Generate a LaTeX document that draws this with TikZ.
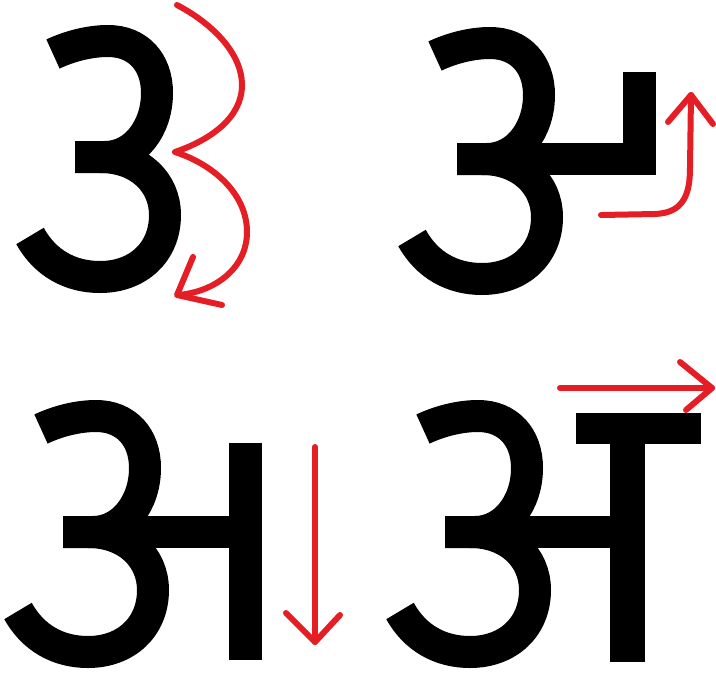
\documentclass[tikz,border=0pt]{standalone}
\definecolor{penred}{RGB}{229,29,37}
\tikzset{
  glyph/.style={line width=32pt, line cap=butt, draw=black},
  pen/.style={line width=6pt, draw=penred, line cap=round, line join=round},
  three/.pic={
    \draw[glyph] (53,54) .. controls (70,46) and (90,41) .. (108,41)
      .. controls (138,41) and (157,62) .. (157,93)
      .. controls (157,128) and (135,157) .. (105,157) -- (75,157);
    \draw[glyph] (100,157) .. controls (140,157) and (165,183) .. (165,215)
      .. controls (165,252) and (138,277) .. (100,277)
      .. controls (70,277) and (45,263) .. (30,236);
  }
}
\begin{document}
\begin{tikzpicture}[x=1pt,y=-1pt]
\useasboundingbox (0,0) rectangle (716,681);
\fill[white] (0,0) rectangle (716,681);
% panel 1
\pic at (0,0) {three};
\draw[pen] (177,5) .. controls (215,25) and (242,55) .. (242,85)
  .. controls (242,118) and (210,140) .. (175,152)
  .. controls (215,165) and (247,195) .. (247,232)
  .. controls (247,268) and (215,292) .. (178,295);
\draw[pen] (193,257) -- (177,295) -- (222,305);
% panel 2
\begin{scope}[shift={(382,2)}]
  \pic {three};
  \fill (75,141) rectangle (273.5,173);
  \fill (240.5,70) rectangle (273.5,173);
\end{scope}
\draw[pen] (601,215) -- (655,214) .. controls (683,213) and (690,195) .. (690,168) -- (691,95);
\draw[pen] (668,122) -- (691,95) -- (713,124);
% panel 3
\begin{scope}[shift={(-12,375)}]
  \pic {three};
  \fill (75,141) rectangle (257,173);
  \fill (240.5,68) rectangle (273.5,285);
\end{scope}
\draw[pen] (315,447) -- (315,642);
\draw[pen] (286,613) -- (315,642) -- (340,615);
% panel 4
\begin{scope}[shift={(370,375)}]
  \pic {three};
  \fill (75,141) rectangle (257,173);
  \fill (240,69) rectangle (275,287);
  \fill (206,38) rectangle (331,69);
\end{scope}
\draw[pen] (560,388) -- (712,388);
\draw[pen] (680,362) -- (712,388) -- (686,410);
\end{tikzpicture}
\end{document}
